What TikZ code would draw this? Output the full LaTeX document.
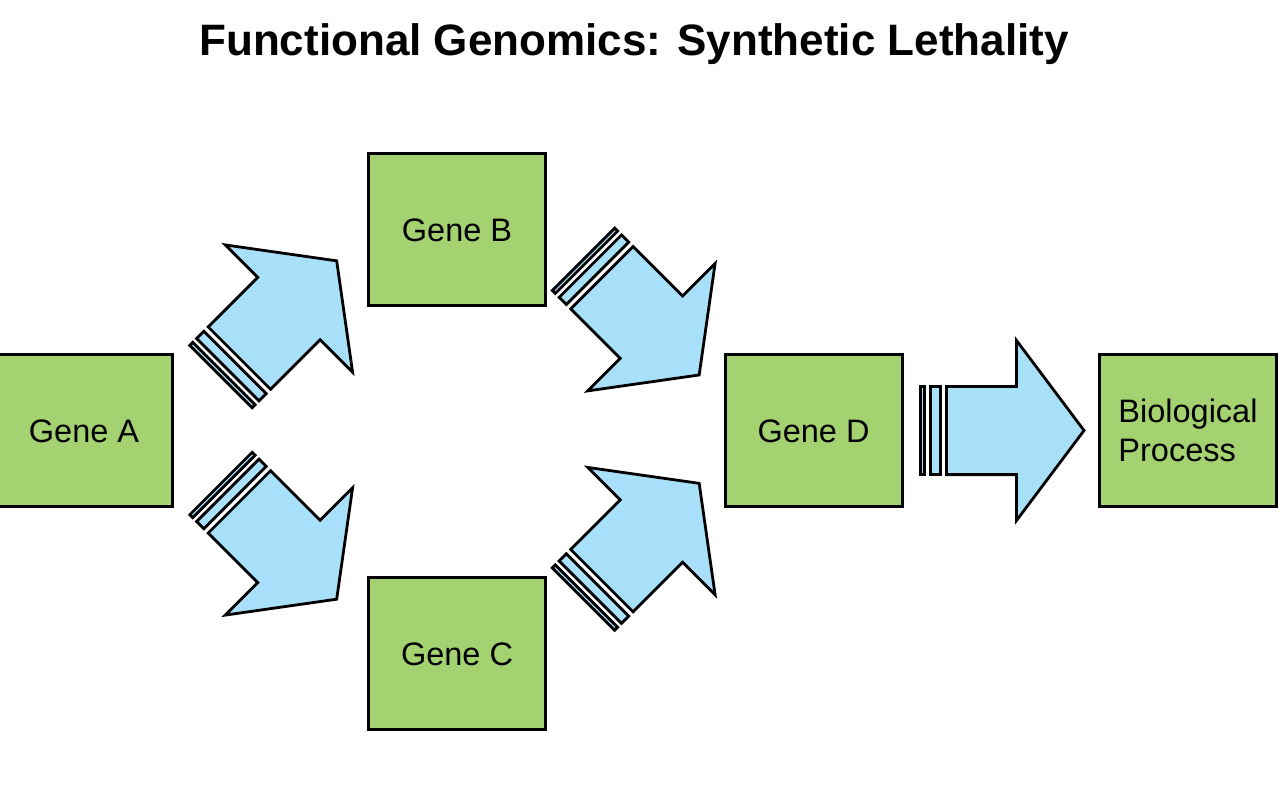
\documentclass[tikz,border=0pt]{standalone}
\usepackage{fontspec}
\setmainfont{Liberation Sans}
\definecolor{BoxClr}{RGB}{165,210,112}
\definecolor{ArrowClr}{RGB}{168,224,250}

\begin{document}
\begin{tikzpicture}[x=1pt,y=-1pt,line join=miter,
  gene/.style={draw=black,line width=3pt,fill=BoxClr,minimum width=177pt,
    minimum height=152pt,inner sep=0pt,text height=25pt,
    font=\fontsize{32.5}{39}\selectfont},
  blockarrow/.style={draw=black,line width=2.8pt,fill=ArrowClr}]
\useasboundingbox (0,0) rectangle (1284,788);

\newcommand{\StripeArrow}[2]{%
  \begin{scope}[shift={#1},rotate=#2]
    \filldraw[blockarrow] (1.4,-44.1) rectangle (5.6,44.1);
    \filldraw[blockarrow] (11.1,-44.1) rectangle (21.3,44.1);
    \filldraw[blockarrow] (27.4,-44.1) -- (97.5,-44.1) -- (97.5,-90) -- (165,0)
      -- (97.5,90) -- (97.5,44.1) -- (27.4,44.1) -- cycle;
  \end{scope}}

\node[font=\fontsize{44}{50}\bfseries] (title) at (634,44) {Functional Genomics: Synthetic Lethality};

\node[gene] (geneA) at (84,430) {Gene A};
\node[gene] (geneB) at (457,229) {Gene B};
\node[gene] (geneC) at (457,653) {Gene C};
\node[gene] (geneD) at (813.5,430) {Gene D};
\node[gene,align=left,text height=] (process) at (1188,430) {Biological\\Process};

\StripeArrow{(220,377.5)}{45}
\StripeArrow{(220,482.5)}{-45}
\StripeArrow{(582.5,258.3)}{-45}
\StripeArrow{(582.5,600)}{45}
\StripeArrow{(919,430.5)}{0}

\end{tikzpicture}
\end{document}
